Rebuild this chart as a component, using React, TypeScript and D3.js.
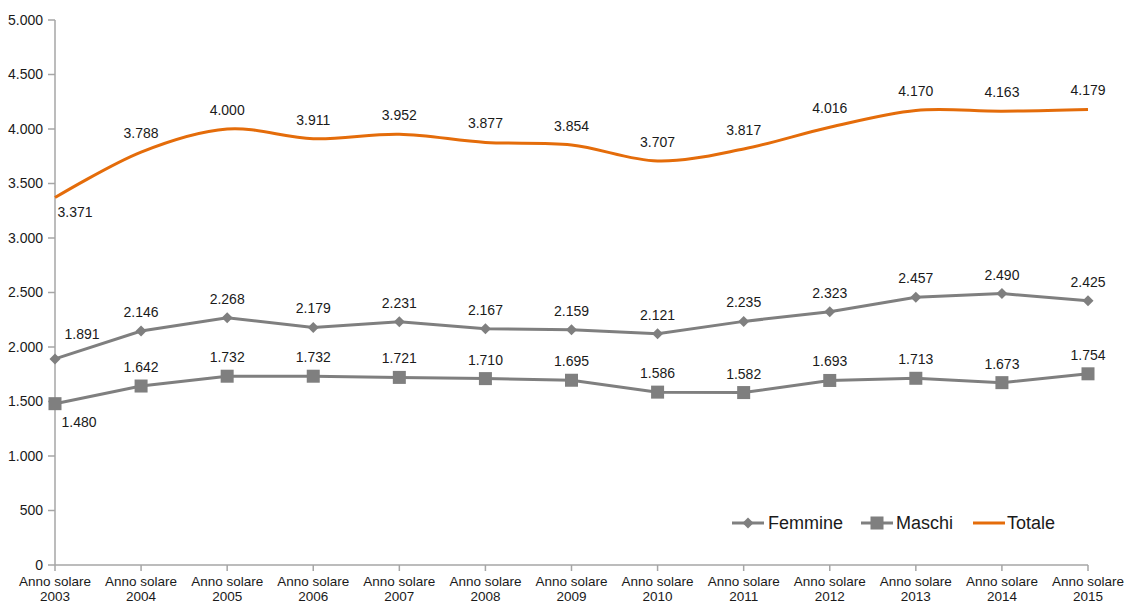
import * as React from 'react';
import * as d3 from "d3";

const years = ["2003", "2004", "2005", "2006", "2007", "2008", "2009", "2010", "2011", "2012", "2013", "2014", "2015"];
const femmine = [1891, 2146, 2268, 2179, 2231, 2167, 2159, 2121, 2235, 2323, 2457, 2490, 2425];
const maschi = [1480, 1642, 1732, 1732, 1721, 1710, 1695, 1586, 1582, 1693, 1713, 1673, 1754];
const totale = [3371, 3788, 4000, 3911, 3952, 3877, 3854, 3707, 3817, 4016, 4170, 4163, 4179];
const yTicks = [0, 500, 1000, 1500, 2000, 2500, 3000, 3500, 4000, 4500, 5000];

const W = 1128, H = 603;
const FONT = "'Liberation Sans', Arial, sans-serif";
const GRAY = "#7f7f7f";
const ORANGE = "#e46c0a";
const AXIS = "#a6a6a6";

const itLocale = d3.formatLocale({ decimal: ",", thousands: ".", grouping: [3], currency: ["", "€"] });
const fmt = itLocale.format(",.0f");

interface Serie {
    name: string;
    values: number[];
    color: string;
    marker: "diamond" | "square" | "none";
    smooth: boolean;
    // label offset for the first point, the rest sit above
    firstLabel: [number, number];
}

const series: Serie[] = [
    { name: "Femmine", values: femmine, color: GRAY, marker: "diamond", smooth: false, firstLabel: [27, -20] },
    { name: "Maschi", values: maschi, color: GRAY, marker: "square", smooth: false, firstLabel: [24, 23] },
    { name: "Totale", values: totale, color: ORANGE, marker: "none", smooth: true, firstLabel: [20, 19] },
];

function Marker(p: { kind: string; x: number; y: number; color: string }) {
    if (p.kind === "diamond") {
        const r = 5.5;
        return <path d={`M${p.x},${p.y - r}L${p.x + r},${p.y}L${p.x},${p.y + r}L${p.x - r},${p.y}Z`} fill={p.color} />;
    }
    if (p.kind === "square") {
        const s = 13;
        return <rect x={p.x - s / 2} y={p.y - s / 2} width={s} height={s} fill={p.color} />;
    }
    return null;
}

export default function App() {
    const x = d3.scalePoint<string>().domain(years).range([55, 1088]);
    const y = d3.scaleLinear().domain([0, 5000]).range([565, 20]);

    const legend = [
        { s: series[0], x0: 732, tx: 768 },
        { s: series[1], x0: 861, tx: 896 },
        { s: series[2], x0: 973, tx: 1007 },
    ];

    return (
        <svg width={W} height={H} style={{ position: "absolute", left: 0, top: 0, background: "#fff" }} fontFamily={FONT}>
            {/* y axis */}
            <line x1={55} x2={55} y1={y(5000)} y2={y(0)} stroke={AXIS} strokeWidth={1.5} />
            {yTicks.map(t => (
                <g key={t}>
                    <line x1={48} x2={55} y1={y(t)} y2={y(t)} stroke={AXIS} strokeWidth={1.5} />
                    <text x={43} y={y(t)} dy="0.35em" textAnchor="end" fontSize={14} fill="#1a1a1a">{fmt(t)}</text>
                </g>
            ))}
            {/* x axis */}
            <line x1={55} x2={1088} y1={y(0)} y2={y(0)} stroke={AXIS} strokeWidth={1.5} />
            {years.map(yr => (
                <g key={yr}>
                    <line x1={x(yr)!} x2={x(yr)!} y1={y(0)} y2={y(0) + 6} stroke={AXIS} strokeWidth={1.5} />
                    <text x={x(yr)!} y={586} textAnchor="middle" fontSize={13.5} fill="#1a1a1a">Anno solare</text>
                    <text x={x(yr)!} y={601} textAnchor="middle" fontSize={13.5} fill="#1a1a1a">{yr}</text>
                </g>
            ))}

            {series.map(s => {
                const line = d3.line<number>()
                    .x((_, i) => x(years[i])!)
                    .y(v => y(v))
                    .curve(s.smooth ? d3.curveCatmullRom.alpha(0) : d3.curveLinear);
                return (
                    <g key={s.name}>
                        <path d={line(s.values) || undefined} fill="none" stroke={s.color} strokeWidth={3} />
                        {s.values.map((v, i) => (
                            <Marker key={i} kind={s.marker} x={x(years[i])!} y={y(v)} color={s.color} />
                        ))}
                        {s.values.map((v, i) => {
                            const [dx, dy] = i === 0 ? s.firstLabel : [0, -14];
                            return (
                                <text key={"l" + i} x={x(years[i])! + dx} y={y(v) + dy} textAnchor="middle" fontSize={14} fill="#1a1a1a">
                                    {fmt(v)}
                                </text>
                            );
                        })}
                    </g>
                );
            })}

            {/* legend */}
            {legend.map(l => (
                <g key={l.s.name}>
                    <line x1={l.x0} x2={l.x0 + 32} y1={523} y2={523} stroke={l.s.color} strokeWidth={3} />
                    <Marker kind={l.s.marker} x={l.x0 + 16} y={523} color={l.s.color} />
                    <text x={l.tx} y={523} dy="0.35em" fontSize={18} fill="#1a1a1a">{l.s.name}</text>
                </g>
            ))}
        </svg>
    );
}
